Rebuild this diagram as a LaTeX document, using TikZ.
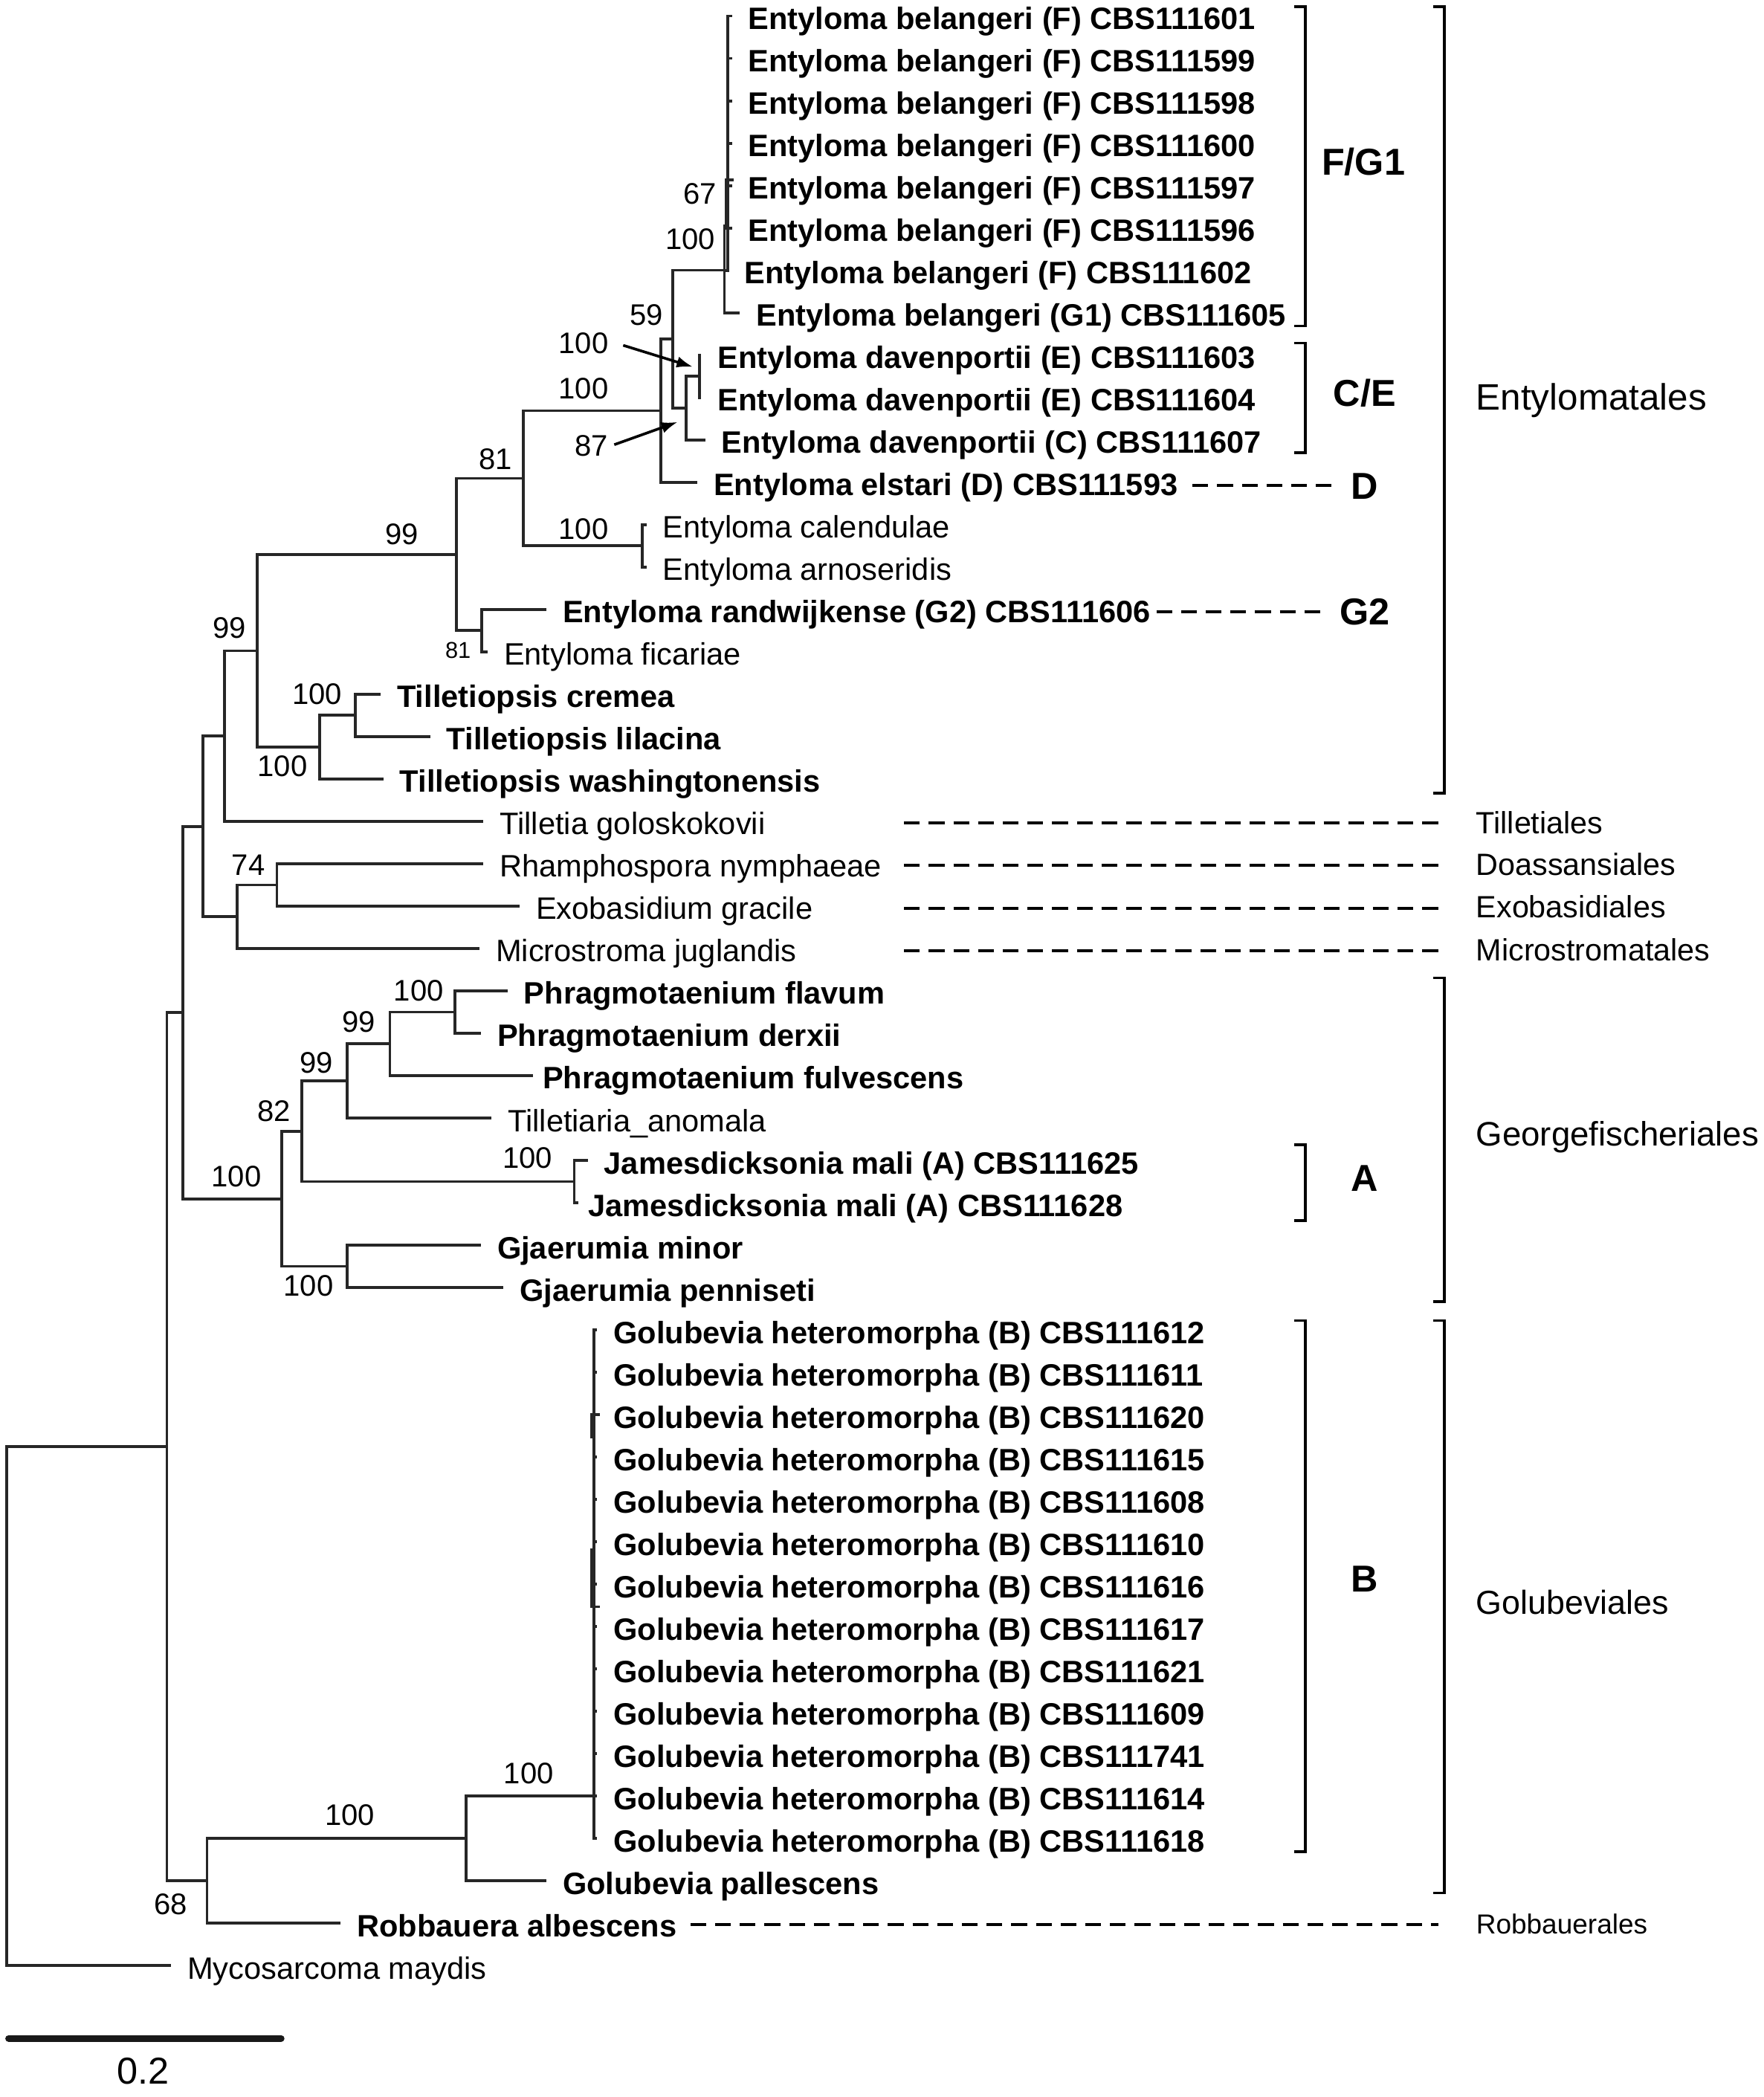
\documentclass[tikz,border=0pt]{standalone}
\usepackage{fontspec}
\setmainfont{Liberation Sans}
\usetikzlibrary{arrows.meta}
\begin{document}
\begin{tikzpicture}[x=0.4491pt,y=-0.4491pt,
  br/.style={line width=0.95pt, draw=black!85, line cap=rect},
  lfb/.style={anchor=west, inner xsep=5.84pt, inner ysep=0pt, text height=9pt, text depth=0pt, font=\fontsize{10.4pt}{12pt}\selectfont\bfseries},
  lfr/.style={anchor=west, inner xsep=5.84pt, inner ysep=0pt, text height=9pt, text depth=0pt, font=\fontsize{10.4pt}{12pt}\selectfont},
  bs/.style={inner sep=0pt, font=\fontsize{10pt}{11pt}\selectfont},
  bss/.style={inner sep=0pt, font=\fontsize{7.7pt}{9pt}\selectfont},
  grp/.style={inner sep=0pt, text height=9pt, text depth=0pt, font=\fontsize{12.6pt}{14pt}\selectfont\bfseries},
  ord/.style={anchor=west, inner sep=0pt, text depth=0pt},
  dsh/.style={line width=1pt, dash pattern=on 5.3pt off 3pt},
  brk/.style={line width=0.9pt},
  arr/.style={line width=0.9pt, -{Latex[length=5.5pt,width=3.8pt]}}
]
\useasboundingbox (0,0) rectangle (1321,1570.4);

% ---------- leaves ----------
\node[lfb] (l1) at (547,12.00) {Entyloma belangeri (F) CBS111601};
\node[lfb] (l2) at (547,43.74) {Entyloma belangeri (F) CBS111599};
\node[lfb] (l3) at (547,75.48) {Entyloma belangeri (F) CBS111598};
\node[lfb] (l4) at (547,107.22) {Entyloma belangeri (F) CBS111600};
\node[lfb] (l5) at (547,138.96) {Entyloma belangeri (F) CBS111597};
\node[lfb] (l6) at (547,170.70) {Entyloma belangeri (F) CBS111596};
\node[lfb] (l7) at (544,202.44) {Entyloma belangeri (F) CBS111602};
\node[lfb] (l8) at (553,234.18) {Entyloma belangeri (G1) CBS111605};
\node[lfb] (l9) at (524,265.92) {Entyloma davenportii (E) CBS111603};
\node[lfb] (l10) at (524,297.66) {Entyloma davenportii (E) CBS111604};
\node[lfb] (l11) at (527,329.40) {Entyloma davenportii (C) CBS111607};
\node[lfb] (l12) at (521,361.14) {Entyloma elstari (D) CBS111593};
\node[lfr] (l13) at (483,392.88) {Entyloma calendulae};
\node[lfr] (l14) at (483,424.62) {Entyloma arnoseridis};
\node[lfb] (l15) at (408,456.36) {Entyloma randwijkense (G2) CBS111606};
\node[lfr] (l16) at (364,488.10) {Entyloma ficariae};
\node[lfb] (l17) at (284,519.84) {Tilletiopsis cremea};
\node[lfb] (l18) at (321,551.58) {Tilletiopsis lilacina};
\node[lfb] (l19) at (286,583.32) {Tilletiopsis washingtonensis};
\node[lfr] (l20) at (361,615.06) {Tilletia goloskokovii};
\node[lfr] (l21) at (361,646.80) {Rhamphospora nymphaeae};
\node[lfr] (l22) at (388,678.54) {Exobasidium gracile};
\node[lfr] (l23) at (358,710.28) {Microstroma juglandis};
\node[lfb] (l24) at (379,742.02) {Phragmotaenium flavum};
\node[lfb] (l25) at (359,773.76) {Phragmotaenium derxii};
\node[lfb, inner xsep=3.6pt] (l26) at (398,805.50) {Phragmotaenium fulvescens};
\node[lfr] (l27) at (367,837.24) {Tilletiaria\_anomala};
\node[lfb] (l28) at (439,868.98) {Jamesdicksonia mali (A) CBS111625};
\node[lfb, inner xsep=3.6pt] (l29) at (432,900.72) {Jamesdicksonia mali (A) CBS111628};
\node[lfb] (l30) at (359,932.46) {Gjaerumia minor};
\node[lfb] (l31) at (376,964.20) {Gjaerumia penniseti};
\node[lfb] (l32) at (446,995.94) {Golubevia heteromorpha (B) CBS111612};
\node[lfb] (l33) at (446,1027.68) {Golubevia heteromorpha (B) CBS111611};
\node[lfb] (l34) at (446,1059.42) {Golubevia heteromorpha (B) CBS111620};
\node[lfb] (l35) at (446,1091.16) {Golubevia heteromorpha (B) CBS111615};
\node[lfb] (l36) at (446,1122.90) {Golubevia heteromorpha (B) CBS111608};
\node[lfb] (l37) at (446,1154.64) {Golubevia heteromorpha (B) CBS111610};
\node[lfb] (l38) at (446,1186.38) {Golubevia heteromorpha (B) CBS111616};
\node[lfb] (l39) at (446,1218.12) {Golubevia heteromorpha (B) CBS111617};
\node[lfb] (l40) at (446,1249.86) {Golubevia heteromorpha (B) CBS111621};
\node[lfb] (l41) at (446,1281.60) {Golubevia heteromorpha (B) CBS111609};
\node[lfb] (l42) at (446,1313.34) {Golubevia heteromorpha (B) CBS111741};
\node[lfb] (l43) at (446,1345.08) {Golubevia heteromorpha (B) CBS111614};
\node[lfb] (l44) at (446,1376.82) {Golubevia heteromorpha (B) CBS111618};
\node[lfb] (l45) at (408,1408.56) {Golubevia pallescens};
\node[lfb] (l46) at (254,1440.30) {Robbauera albescens};
\node[lfr] (l47) at (127,1472.04) {Mycosarcoma maydis};

% ---------- internal nodes ----------
\coordinate (Fsub) at (545,169);
\coordinate (FG) at (542.5,202.4);
\coordinate (E) at (524,281.8);
\coordinate (CE) at (514,305.6);
\coordinate (X) at (504,254);
\coordinate (Y) at (495,307.6);
\coordinate (Cal) at (481,408.75);
\coordinate (Z) at (392,358.2);
\coordinate (Rand) at (360.7,472.2);
\coordinate (W) at (342,415.2);
\coordinate (Tin) at (266,535.7);
\coordinate (Til) at (239.4,559.5);
\coordinate (N192) at (192.5,487.4);
\coordinate (N168) at (168,551.2);
\coordinate (Rham) at (207.4,662.7);
\coordinate (N74) at (177.6,686.5);
\coordinate (N152) at (152,618.9);
\coordinate (Phf) at (340.5,757.9);
\coordinate (N292) at (292,781.7);
\coordinate (N260) at (260,809.5);
\coordinate (Jam) at (430,884.85);
\coordinate (N82) at (226,847.2);
\coordinate (Gj) at (260,948.3);
\coordinate (Geo) at (211,897.7);
\coordinate (N137) at (137,758.3);
\coordinate (Gh) at (445,1345.08);
\coordinate (Gp) at (349,1376.8);
\coordinate (N68) at (155,1408.6);
\coordinate (N125) at (125,1083.4);
\coordinate (Root) at (5,1277.7);

% ---------- branches ----------
\foreach \i in {1,...,7} \draw[br] (Fsub) |- (l\i.west);
\draw[br] (FG) |- (Fsub);  \draw[br] (FG) |- (l8.west);
\draw[br] (E) |- (l9.west);  \draw[br] (E) |- (l10.west);
\draw[br] (CE) |- (E);  \draw[br] (CE) |- (l11.west);
\draw[br] (X) |- (FG);  \draw[br] (X) |- (CE);
\draw[br] (Y) |- (X);  \draw[br] (Y) |- (l12.west);
\draw[br] (Cal) |- (l13.west);  \draw[br] (Cal) |- (l14.west);
\draw[br] (Z) |- (Y);  \draw[br] (Z) |- (Cal);
\draw[br] (Rand) |- (l15.west);  \draw[br] (Rand) |- (l16.west);
\draw[br] (W) |- (Z);  \draw[br] (W) |- (Rand);
\draw[br] (Tin) |- (l17.west);  \draw[br] (Tin) |- (l18.west);
\draw[br] (Til) |- (Tin);  \draw[br] (Til) |- (l19.west);
\draw[br] (N192) |- (W);  \draw[br] (N192) |- (Til);
\draw[br] (N168) |- (N192);  \draw[br] (N168) |- (l20.west);
\draw[br] (Rham) |- (l21.west);  \draw[br] (Rham) |- (l22.west);
\draw[br] (N74) |- (Rham);  \draw[br] (N74) |- (l23.west);
\draw[br] (N152) |- (N168);  \draw[br] (N152) |- (N74);
\draw[br] (Phf) |- (l24.west);  \draw[br] (Phf) |- (l25.west);
\draw[br] (N292) |- (Phf);  \draw[br] (N292) |- (l26.west);
\draw[br] (N260) |- (N292);  \draw[br] (N260) |- (l27.west);
\draw[br] (Jam) |- (l28.west);  \draw[br] (Jam) |- (l29.west);
\draw[br] (N82) |- (N260);  \draw[br] (N82) |- (Jam);
\draw[br] (Gj) |- (l30.west);  \draw[br] (Gj) |- (l31.west);
\draw[br] (Geo) |- (N82);  \draw[br] (Geo) |- (Gj);
\draw[br] (N137) |- (N152);  \draw[br] (N137) |- (Geo);
\foreach \i in {32,...,44} \draw[br] (Gh) |- (l\i.west);
\draw[br] (Gp) |- (Gh);  \draw[br] (Gp) |- (l45.west);
\draw[br] (N68) |- (Gp);  \draw[br] (N68) |- (l46.west);
\draw[br] (N125) |- (N137);  \draw[br] (N125) |- (N68);
\draw[br] (Root) |- (N125);  \draw[br] (Root) |- (l47.west);

% tiny sub-clades drawn as short strokes
\coordinate (f67a) at (543.6,134.5); \coordinate (f67b) at (543.6,171); \coordinate (f67t) at (548.5,134.5);
\draw[br] (f67t) -- (f67a) -- (f67b);
\coordinate (g1a) at (443.3,1059.5); \coordinate (g1b) at (443.3,1076.2); \coordinate (g1t) at (448,1059.5);
\draw[br] (g1t) -- (g1a) -- (g1b);
\coordinate (g2a) at (443.3,1160.6); \coordinate (g2b) at (443.3,1203.3); \coordinate (g2t) at (448,1203.3);
\draw[br] (g2a) -- (g2b) -- (g2t);

% ---------- bootstrap values ----------
\node[bs] (b67) at (524,145) {67};
\node[bs] (b100a) at (517,179) {100};
\node[bs] (b59) at (484,236) {59};
\node[bs] (b100b) at (437,257) {100};
\node[bs] (b100c) at (437,291) {100};
\node[bs] (b87) at (443,334) {87};
\node[bs] (b81) at (371,344) {81};
\node[bs] (b100d) at (437,396) {100};
\node[bs] (b99a) at (301,400) {99};
\node[bs] (b99b) at (172,470) {99};
\node[bss] (b81s) at (343,487) {81};
\node[bs] (b100e) at (237.5,520) {100};
\node[bs] (b100f) at (211.5,574) {100};
\node[bs] (b74) at (186,648) {74};
\node[bs] (b100g) at (313.5,742) {100};
\node[bs] (b99c) at (268.5,765) {99};
\node[bs] (b99d) at (237,796) {99};
\node[bs] (b82) at (205,832) {82};
\node[bs] (b100h) at (395,867) {100};
\node[bs] (b100i) at (177,881) {100};
\node[bs] (b100j) at (231,963) {100};
\node[bs] (b100k) at (396,1328) {100};
\node[bs] (b100l) at (262,1359) {100};
\node[bs] (b68) at (128,1426) {68};

% arrows
\coordinate (a1s) at (466.7,258.6); \coordinate (a1e) at (519,274.8);
\draw[arr] (a1s) -- (a1e);
\coordinate (a2s) at (460,333); \coordinate (a2e) at (507.5,316);
\draw[arr] (a2s) -- (a2e);

% ---------- clade brackets ----------
\coordinate (bFt) at (969,5); \coordinate (bFb) at (969,244);
\draw[brk] (bFt) -- (977.5,5) -- (977.5,244) -- (bFb);
\coordinate (bCt) at (969,257); \coordinate (bCb) at (969,339);
\draw[brk] (bCt) -- (977.5,257) -- (977.5,339) -- (bCb);
\coordinate (bAt) at (969,857.3); \coordinate (bAb) at (969,914);
\draw[brk] (bAt) -- (977.5,857.3) -- (977.5,914) -- (bAb);
\coordinate (bBt) at (969,989); \coordinate (bBb) at (969,1386.6);
\draw[brk] (bBt) -- (977.5,989) -- (977.5,1386.6) -- (bBb);

\coordinate (oEt) at (1073,5); \coordinate (oEb) at (1073,594);
\draw[brk] (oEt) -- (1081.5,5) -- (1081.5,594) -- (oEb);
\coordinate (oGt) at (1073,732.4); \coordinate (oGb) at (1073,974.6);
\draw[brk] (oGt) -- (1081.5,732.4) -- (1081.5,974.6) -- (oGb);
\coordinate (oBt) at (1073,989); \coordinate (oBb) at (1073,1417.6);
\draw[brk] (oBt) -- (1081.5,989) -- (1081.5,1417.6) -- (oBb);

% ---------- group letters ----------
\node[grp] (gFG) at (1021,121) {F/G1};
\node[grp] (gCE) at (1022,294) {C/E};
\node[grp] (gD) at (1022,364) {D};
\node[grp] (gG2) at (1022,458) {G2};
\node[grp] (gA) at (1022,882) {A};
\node[grp] (gB) at (1022,1182) {B};

% ---------- dashed leaders ----------
\coordinate (dDs) at (893,363.5); \coordinate (dDe) at (998,363.5);
\draw[dsh] (dDs) -- (dDe);
\coordinate (dGs) at (866,458); \coordinate (dGe) at (989,458);
\draw[dsh] (dGs) -- (dGe);
\coordinate (dTs) at (677,616.5); \coordinate (dTe) at (1077,616.5);
\draw[dsh] (dTs) -- (dTe);
\coordinate (dRs) at (677,648); \coordinate (dRe) at (1077,648);
\draw[dsh] (dRs) -- (dRe);
\coordinate (dXs) at (677,680); \coordinate (dXe) at (1077,680);
\draw[dsh] (dXs) -- (dXe);
\coordinate (dMs) at (677,712); \coordinate (dMe) at (1077,712);
\draw[dsh] (dMs) -- (dMe);
\coordinate (dBs) at (517,1441); \coordinate (dBe) at (1077,1441);
\draw[dsh] (dBs) -- (dBe);

% ---------- order labels ----------
\node[ord, text height=8.85pt, font=\fontsize{12.35pt}{14pt}\selectfont] (oEnt) at (1105,297) {Entylomatales};
\node[ord, text height=7.4pt, font=\fontsize{10.33pt}{12pt}\selectfont] (oTil) at (1105,616) {Tilletiales};
\node[ord, text height=7.4pt, font=\fontsize{10.33pt}{12pt}\selectfont] (oDoa) at (1105,647) {Doassansiales};
\node[ord, text height=7.4pt, font=\fontsize{10.33pt}{12pt}\selectfont] (oExo) at (1105,679) {Exobasidiales};
\node[ord, text height=7.4pt, font=\fontsize{10.33pt}{12pt}\selectfont] (oMic) at (1105,711) {Microstromatales};
\node[ord, text height=8.2pt, font=\fontsize{11.4pt}{13pt}\selectfont] (oGeo) at (1105,849) {Georgefischeriales};
\node[ord, text height=8.0pt, font=\fontsize{11.2pt}{13pt}\selectfont] (oGol) at (1105,1200) {Golubeviales};
\node[ord, text height=6.6pt, font=\fontsize{9.25pt}{11pt}\selectfont] (oRob) at (1105,1441) {Robbauerales};

% ---------- scale bar ----------
\coordinate (sb1) at (6.5,1526.5); \coordinate (sb2) at (210.5,1526.5);
\draw[line width=2.3pt, line cap=round, draw=black!90] (sb1) -- (sb2);
\node[inner sep=0pt, font=\fontsize{12.6pt}{14pt}\selectfont] (sbl) at (107,1551) {0.2};
\end{tikzpicture}
\end{document}
